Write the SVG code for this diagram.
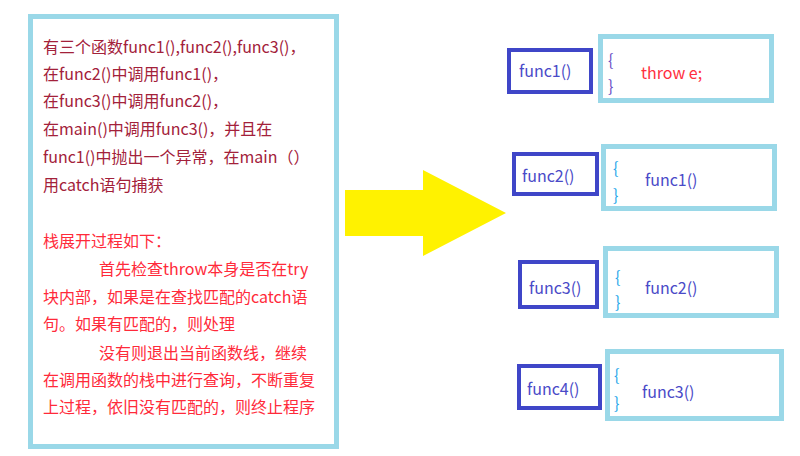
<svg xmlns="http://www.w3.org/2000/svg" width="800" height="456" viewBox="0 0 800 456">
<style>
text{font-family:"Noto Sans CJK SC","Noto Sans",sans-serif;font-size:16px}
.p1{fill:#a3213a}
.p2{fill:#ff2a3a}
.fn{fill:#4a4ac8}
.lb{fill:none;stroke:#9ad8e8;stroke-width:5}
.db{fill:#fff;stroke:#3f46c8;stroke-width:4}
.br{fill:#2ba8ea}
.br1{fill:#6a4fc6}
</style>
<rect width="800" height="456" fill="#fff"/>
<g id="desc">
<rect class="lb" x="30.5" y="16.5" width="306" height="430" fill="#fff"/>
<text class="p1" x="43" y="53">有三个函数func1(),func2(),func3()，</text>
<text class="p1" x="43" y="80">在func2()中调用func1()，</text>
<text class="p1" x="43" y="107">在func3()中调用func2()，</text>
<text class="p1" x="43" y="135">在main()中调用func3()，并且在</text>
<text class="p1" x="43" y="163">func1()中抛出一个异常，在main（）</text>
<text class="p1" x="43" y="191">用catch语句捕获</text>
<text class="p2" x="43" y="247">栈展开过程如下：</text>
<text class="p2" x="99" y="275">首先检查throw本身是否在try</text>
<text class="p2" x="43" y="303">块内部，如果是在查找匹配的catch语</text>
<text class="p2" x="43" y="330">句。如果有匹配的，则处理</text>
<text class="p2" x="99" y="359">没有则退出当前函数线，继续</text>
<text class="p2" x="43" y="386">在调用函数的栈中进行查询，不断重复</text>
<text class="p2" x="43" y="413">上过程，依旧没有匹配的，则终止程序</text>
</g>
<g id="connectors">
<polygon points="345,190 423,190 423,170 506,213 423,256 423,236 345,236" fill="#fff200"/>
</g>
<g id="func1">
<rect class="db" x="509" y="50" width="82" height="42"/>
<text class="fn" x="519" y="77">func1()</text>
</g>
<g id="body1">
<rect class="lb" x="600.5" y="36.5" width="171" height="64"/>
<text class="br1" x="608" y="66">{</text>
<text class="br1" x="608" y="92">}</text>
<text x="641" y="79" fill="#ff3040">throw e;</text>
</g>
<g id="func2">
<rect class="db" x="514" y="154" width="83" height="40"/>
<text class="fn" x="522" y="182">func2()</text>
</g>
<g id="body2">
<rect class="lb" x="603.5" y="146.5" width="171" height="62"/>
<text class="br" x="613" y="174">{</text>
<text class="br" x="613" y="201">}</text>
<text class="fn" x="645" y="186">func1()</text>
</g>
<g id="func3">
<rect class="db" x="520" y="262" width="77" height="45"/>
<text class="fn" x="529" y="294">func3()</text>
</g>
<g id="body3">
<rect class="lb" x="605.5" y="248.5" width="171" height="67"/>
<text class="br" x="615" y="283">{</text>
<text class="br" x="615" y="308">}</text>
<text class="fn" x="645" y="294">func2()</text>
</g>
<g id="func4">
<rect class="db" x="519" y="366" width="81" height="42"/>
<text class="fn" x="527" y="395">func4()</text>
</g>
<g id="body4">
<rect class="lb" x="607.5" y="351.5" width="174" height="67"/>
<text class="br" x="614" y="381">{</text>
<text class="br" x="614" y="409">}</text>
<text class="fn" x="642" y="398">func3()</text>
</g>
</svg>
